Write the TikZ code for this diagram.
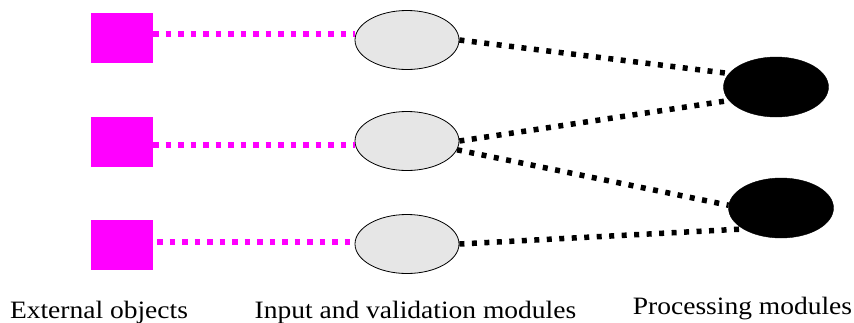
\documentclass[tikz,border=0pt]{standalone}
\usepackage{fontspec}
\usetikzlibrary{shapes.geometric}
\newfontfamily\labfont[FakeStretch=1.1]{Liberation Serif}
\definecolor{mag}{HTML}{FF00FF}
\definecolor{lgray}{HTML}{E6E6E6}
\begin{document}
\begin{tikzpicture}[x=1pt,y=-1pt,
  extobj/.style={fill=mag,draw=none,minimum width=62pt,minimum height=50pt,inner sep=0pt},
  inmod/.style={ellipse,fill=lgray,draw=black,line width=0.8pt,minimum width=104pt,minimum height=59pt,inner sep=0pt},
  procmod/.style={ellipse,fill=black,draw=black,minimum width=105pt,minimum height=60pt,inner sep=0pt},
  magline/.style={draw=mag,line width=6pt,dash pattern=on 5.5pt off 7pt},
  blkline/.style={draw=black,line width=5.5pt,dash pattern=on 5pt off 7.5pt},
  lab/.style={font=\labfont\fontsize{25}{30}\selectfont,inner sep=0pt,anchor=base}]
\useasboundingbox (0,0) rectangle (854,322);
\node[extobj] (sq1) at (122,38) {};
\node[extobj] (sq2) at (122,142) {};
\node[extobj] (sq3) at (122,244.5) {};
\node[inmod] (el1) at (407,40) {};
\node[inmod] (el2) at (407,141) {};
\node[inmod] (el3) at (407,244) {};
\node[procmod] (bk1) at (776,87) {};
\node[procmod] (bk2) at (781,208) {};
\draw[magline] ([yshift=4pt]sq1.east) -- ([yshift=4pt]sq1.east -| el1.west);
\draw[magline] ([yshift=-3pt]sq2.east) -- ([yshift=-3pt]sq2.east -| el2.west);
\draw[magline] ([xshift=4pt,yshift=2.5pt]sq3.east) -- ([yshift=2.5pt]sq3.east -| el3.west);
\draw[blkline] (el1.east) -- (bk1.164);
\draw[blkline] (el2.east) -- (bk1.196);
\draw[blkline] (el2.-10) -- (bk2.177);
\draw[blkline] (el3.east) -- (bk2.209);
\node[lab] (t1) at (99,318) {External objects};
\node[lab] (t2) at (415.5,318) {Input and validation modules};
\node[lab] (t3) at (742.5,314) {Processing modules};
\end{tikzpicture}
\end{document}
